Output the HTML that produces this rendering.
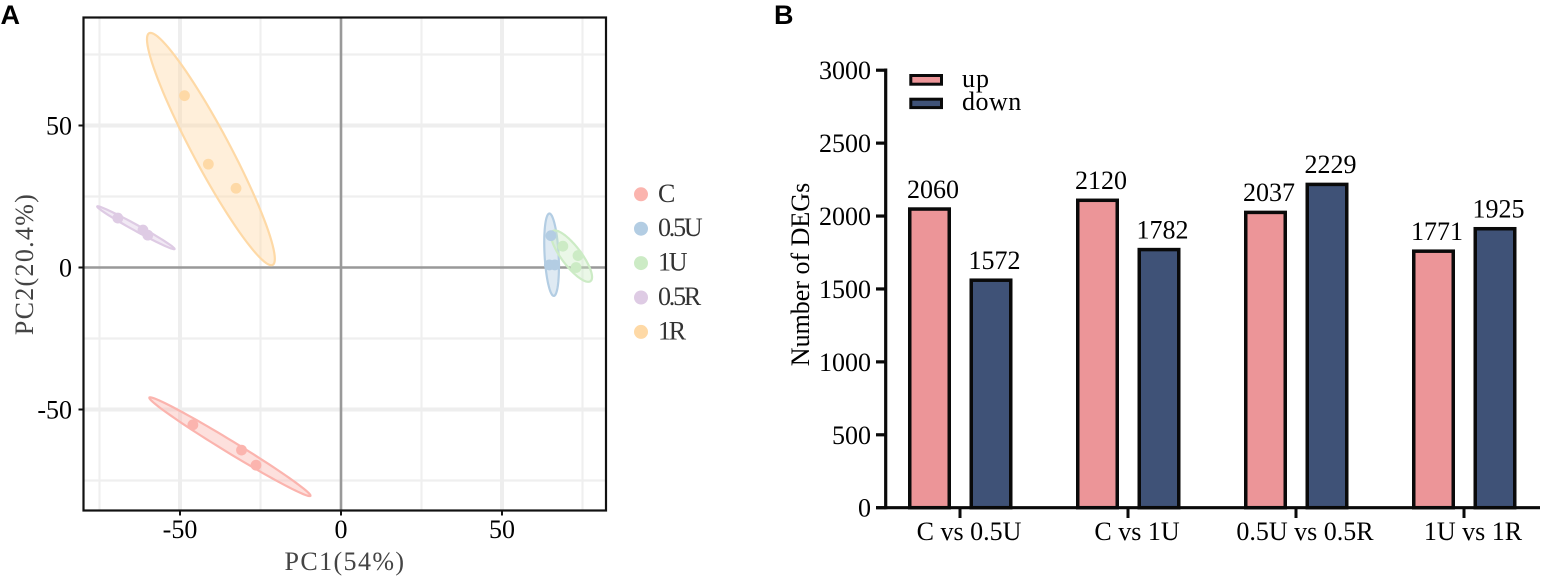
<!DOCTYPE html>
<html>
<head>
<meta charset="utf-8">
<title>PCA and DEG counts</title>
<style>
html,body{margin:0;padding:0;background:#fff;width:1545px;height:580px;overflow:hidden}
svg{display:block}
text{font-family:"Liberation Serif",serif;fill:#000}
.panel{font-family:"Liberation Sans",sans-serif;font-weight:bold;font-size:27px}
</style>
</head>
<body>
<svg id="fig" width="1545" height="580" viewBox="0 0 1545 580" xmlns="http://www.w3.org/2000/svg"></svg>
<script>
// ---- Panel A data ----
const pcaGroups = ['C', '0.5U', '1U', '0.5R', '1R'];
const pcaColors = ['#FBB4AE', '#B3CDE3', '#CCEBC5', '#DECBE4', '#FED9A6'];
const pcaPointsX = [
  [-46, -30.9, -26.4],
  [65.2, 64.7, 66.4],
  [68.9, 73.6, 73],
  [-69.3, -61.5, -60],
  [-48.6, -41.2, -32.6]
];
const pcaPointsY = [
  [-55.4, -64.3, -69.6],
  [11.2, 0.9, 0.9],
  [7.5, 4.2, 0],
  [17.4, 13.2, 11.4],
  [60.5, 36.4, 27.9]
];
const ellipseCenterX = [-34.5, 65.4, 71.6, -63.7, -40.4];
const ellipseCenterY = [-63.1, 4.5, 4, 14, 41.7];
const ellipseMajorX = [25, 0.7, 5.9, 12, -19.2];
const ellipseMajorY = [-17.3, -14.5, -8.8, -7.5, 40.8];
const ellipseMinorX = [0.97, 2.17, 2.4, 0.46, 5.05];
const ellipseMinorY = [1.8, 0.13, 2.1, 0.92, 3.1];
const pcaMajorTicks = [-50, 0, 50];
const pcaMinorTicks = [-75, -25, 25, 75];

// ---- Panel B data ----
const degCategories = ['C vs 0.5U', 'C vs 1U', '0.5U vs 0.5R', '1U vs 1R'];
const degUp = [2060, 2120, 2037, 1771];
const degDown = [1572, 1782, 2229, 1925];
const degTicks = [0, 500, 1000, 1500, 2000, 2500, 3000];

const NS = 'http://www.w3.org/2000/svg';
const fig = document.getElementById('fig');
function mk(tag, attrs, parent) {
  const el = document.createElementNS(NS, tag);
  for (const k in attrs) el.setAttribute(k, attrs[k]);
  (parent || fig).appendChild(el);
  return el;
}
function txt(s, attrs, parent) {
  const el = mk('text', attrs, parent);
  el.textContent = s;
  return el;
}

// Panel A scales
const ax = {l: 83.5, t: 17.5, r: 606, b: 510.5};
const px = v => 341 + v * 3.22;
const py = v => 267.5 - v * 2.84;

const gridA = mk('g', {});


pcaMinorTicks.forEach(v => {
  const a = mk('line', {x1: px(v), x2: px(v), y1: ax.t, y2: ax.b, stroke: '#EFEFEF', 'stroke-width': 2.2}, gridA);
  
  
  const b = mk('line', {x1: ax.l, x2: ax.r, y1: py(v), y2: py(v), stroke: '#EFEFEF', 'stroke-width': 2.2}, gridA);
  
  
});
pcaMajorTicks.filter(v => v !== 0).forEach(v => {
  const a = mk('line', {x1: px(v), x2: px(v), y1: ax.t, y2: ax.b, stroke: '#EEEEEE', 'stroke-width': 4}, gridA);
  
  
  const b = mk('line', {x1: ax.l, x2: ax.r, y1: py(v), y2: py(v), stroke: '#EEEEEE', 'stroke-width': 4}, gridA);
  
  
});
const zeroV = mk('line', {x1: px(0), x2: px(0), y1: ax.t, y2: ax.b, stroke: '#999', 'stroke-width': 2.6});


const zeroH = mk('line', {x1: ax.l, x2: ax.r, y1: py(0), y2: py(0), stroke: '#999', 'stroke-width': 2.6});



pcaGroups.forEach((g, i) => {
  let d = '';
  for (let k = 0; k < 96; k++) {
    const t = k / 96 * Math.PI * 2;
    const X = ellipseCenterX[i] + ellipseMajorX[i] * Math.cos(t) + ellipseMinorX[i] * Math.sin(t);
    const Y = ellipseCenterY[i] + ellipseMajorY[i] * Math.cos(t) + ellipseMinorY[i] * Math.sin(t);
    d += (k ? 'L' : 'M') + px(X).toFixed(2) + ' ' + py(Y).toFixed(2);
  }
  const e = mk('path', {d: d + 'Z', fill: pcaColors[i], 'fill-opacity': 0.42, stroke: pcaColors[i], 'stroke-width': 2.2});
  
  
});
pcaGroups.forEach((g, i) => {
  pcaPointsX[i].forEach((x, j) => {
    const c = mk('circle', {cx: px(x), cy: py(pcaPointsY[i][j]), r: 5.4, fill: pcaColors[i]});
    
    
  });
});

const boxA = mk('rect', {x: ax.l, y: ax.t, width: ax.r - ax.l, height: ax.b - ax.t, fill: 'none', stroke: '#111', 'stroke-width': 2.2});



pcaMajorTicks.forEach(v => {
  const t1 = mk('line', {x1: px(v), x2: px(v), y1: ax.b, y2: ax.b + 5, stroke: '#111', 'stroke-width': 2});
  
  
  const l1 = txt(String(v), {x: px(v), y: 538, 'text-anchor': 'middle', 'font-size': 26});
  
  
  const t2 = mk('line', {x1: ax.l - 5, x2: ax.l, y1: py(v), y2: py(v), stroke: '#111', 'stroke-width': 2});
  
  
  const l2 = txt(String(v), {x: 72, y: py(v) + 9, 'text-anchor': 'end', 'font-size': 26});
  
  
});

const xTitle = txt('PC1(54%)', {x: 345, y: 570, 'text-anchor': 'middle', 'font-size': 26, 'letter-spacing': 1.4, style: 'fill:#444'});


const yTitle = txt('PC2(20.4%)', {transform: 'translate(33,264) rotate(-90)', 'text-anchor': 'middle', 'font-size': 26, 'letter-spacing': 1.3, style: 'fill:#444'});



pcaGroups.forEach((g, i) => {
  const y = 194.3 + i * 34.4;
  const c = mk('circle', {cx: 641, cy: y, r: 7, fill: pcaColors[i]});
  
  
  const t = txt(g, {x: 658, y: y + 7.5, 'font-size': 26, 'letter-spacing': -2.2, style: 'fill:#333'});
  
  
});

const panelA = txt('A', {x: 0.5, y: 24, class: 'panel', style: 'font-family:"Liberation Sans",sans-serif;font-weight:bold'});


const panelB = txt('B', {x: 774, y: 24, class: 'panel', style: 'font-family:"Liberation Sans",sans-serif;font-weight:bold'});



// Panel B scales
const by = v => 507.7 - v * 0.14583;
const catX = i => 960 + i * 168;
const barW = 39.5;
const barStroke = 3.5;
const UP = '#EC9598', DOWN = '#3F5277';

function drawBar(cx, v, fill, name) {
  const top = by(v) + barStroke / 2;
  const r = mk('rect', {x: cx - barW / 2, y: top, width: barW, height: by(0) - top, fill: fill, stroke: '#0a0a0a', 'stroke-width': barStroke});
  
  
  const t = txt(String(v), {x: cx + 3.5, y: by(v) - 9.5, 'text-anchor': 'middle', 'font-size': 26});
  
  
}
degCategories.forEach((c, i) => {
  drawBar(catX(i) - 30.5, degUp[i], UP, 'bar-up-' + (i + 1));
  drawBar(catX(i) + 31, degDown[i], DOWN, 'bar-down-' + (i + 1));
  const t = mk('line', {x1: catX(i), x2: catX(i), y1: 507.7, y2: 518, stroke: '#0a0a0a', 'stroke-width': 3});
  
  
  const l = txt(c, {x: catX(i) + 9, y: 540, 'text-anchor': 'middle', 'font-size': 26});
  
  
});

const axisY = mk('line', {x1: 885.7, x2: 885.7, y1: 68.5, y2: 509.2, stroke: '#0a0a0a', 'stroke-width': 3.2});


const axisX = mk('line', {x1: 876, x2: 1540, y1: 507.7, y2: 507.7, stroke: '#0a0a0a', 'stroke-width': 3.2});


degTicks.forEach(v => {
  const t = mk('line', {x1: 876, x2: 885.7, y1: by(v), y2: by(v), stroke: '#0a0a0a', 'stroke-width': 3.2});
  
  
  const l = txt(String(v), {x: 871, y: by(v) + 9, 'text-anchor': 'end', 'font-size': 26});
  
  
});
const degTitle = txt('Number of DEGs', {transform: 'translate(809,274.5) rotate(-90)', 'text-anchor': 'middle', 'font-size': 26});



const lgUp = mk('rect', {x: 910.8, y: 75.5, width: 30.7, height: 8.7, fill: UP, stroke: '#0a0a0a', 'stroke-width': 3});


const lgDown = mk('rect', {x: 910.8, y: 99.2, width: 30.7, height: 8.4, fill: DOWN, stroke: '#0a0a0a', 'stroke-width': 3});


const lgUpT = txt('up', {x: 962, y: 87, 'font-size': 26, 'letter-spacing': 1});


const lgDownT = txt('down', {x: 962, y: 110, 'font-size': 26, 'letter-spacing': 0.5});


</script>
</body>
</html>
